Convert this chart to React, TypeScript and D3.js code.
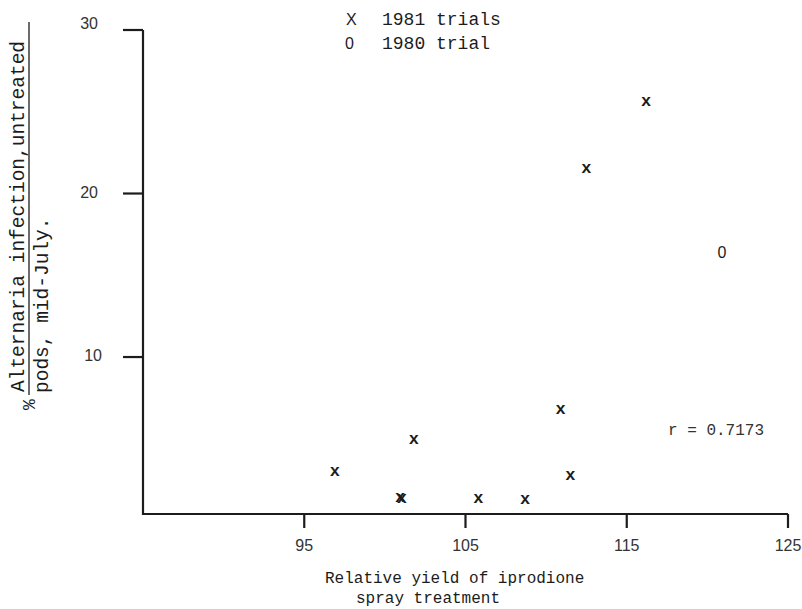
import React, { useEffect, useRef } from "react";
import * as d3 from "d3";

// 1981 trials (x markers)
const yield1981 = [96.9, 100.95, 101.05, 101.8, 105.8, 108.7, 110.9, 111.5, 112.5, 116.2];
const infection1981 = [3.1, 1.5, 1.45, 5.05, 1.45, 1.4, 6.9, 2.85, 21.6, 25.7];
// 1980 trial (0 marker)
const yield1980 = [120.9];
const infection1980 = [16.4];

const xTicks = [95, 105, 115, 125];
const yTicks = [10, 20, 30];

const ink = "#1c1c1c";
const mono = "'Liberation Mono', 'DejaVu Sans Mono', monospace";
const sans = "'Liberation Sans', 'DejaVu Sans', sans-serif";

const App = () => {
  const ref = useRef<SVGSVGElement>(null);

  useEffect(() => {
    const svg = d3.select(ref.current);
    svg.selectAll("*").remove();

    const width = 802;
    const height = 609;
    svg.attr("width", width).attr("height", height);

    svg.append("rect").attr("width", width).attr("height", height).attr("fill", "#ffffff");

    const x = d3.scaleLinear().domain([85, 125]).range([143, 788]);
    const y = d3.scaleLinear().domain([0.4, 30]).range([514, 30]);

    const axisY = y(0.4);

    // axes lines
    svg
      .append("path")
      .attr("d", `M${x(85)},${y(30)} L${x(85)},${axisY} L${x(125)},${axisY}`)
      .attr("fill", "none")
      .attr("stroke", ink)
      .attr("stroke-width", 2.2);

    // y ticks (to the left)
    const yg = svg.append("g");
    yg.selectAll("line")
      .data(yTicks)
      .enter()
      .append("line")
      .attr("x1", x(85) - 20)
      .attr("x2", x(85))
      .attr("y1", (d) => y(d))
      .attr("y2", (d) => y(d))
      .attr("stroke", ink)
      .attr("stroke-width", 2.2);
    yg.selectAll("text")
      .data(yTicks)
      .enter()
      .append("text")
      .attr("x", (d) => (d === 10 ? 102 : 98))
      .attr("y", (d) => (d === 30 ? y(d) - 1 : y(d) + 4))
      .attr("text-anchor", "end")
      .attr("font-family", sans)
      .attr("font-size", 16)
      .attr("fill", "#333")
      .text((d) => d);

    // x ticks (downward)
    const xg = svg.append("g");
    xg.selectAll("line")
      .data(xTicks)
      .enter()
      .append("line")
      .attr("x1", (d) => x(d))
      .attr("x2", (d) => x(d))
      .attr("y1", axisY)
      .attr("y2", axisY + 14)
      .attr("stroke", ink)
      .attr("stroke-width", 2.2);
    xg.selectAll("text")
      .data(xTicks)
      .enter()
      .append("text")
      .attr("x", (d) => x(d))
      .attr("y", axisY + 37)
      .attr("text-anchor", "middle")
      .attr("font-family", sans)
      .attr("font-size", 16)
      .attr("fill", "#333")
      .text((d) => d);

    // x label
    const xl = svg
      .append("text")
      .attr("font-family", mono)
      .attr("font-size", 16)
      .attr("fill", ink);
    xl.append("tspan").attr("x", 325).attr("y", 583).text("Relative yield of iprodione");
    xl.append("tspan").attr("x", 356).attr("y", 603).text("spray treatment");

    // y label: % fraction, rotated
    const yl = svg.append("g");
    yl.append("text")
      .attr("transform", `translate(35,410) rotate(-90)`)
      .attr("font-family", mono)
      .attr("font-size", 18)
      .attr("fill", ink)
      .text("%");
    yl.append("text")
      .attr("transform", `translate(24,392) rotate(-90)`)
      .attr("font-family", mono)
      .attr("font-size", 19.5)
      .attr("fill", ink)
      .text("Alternaria infection,untreated");
    yl.append("line")
      .attr("x1", 29)
      .attr("x2", 29)
      .attr("y1", 395)
      .attr("y2", 22)
      .attr("stroke", ink)
      .attr("stroke-width", 1.3);
    yl.append("text")
      .attr("transform", `translate(48,393) rotate(-90)`)
      .attr("font-family", mono)
      .attr("font-size", 19.5)
      .attr("fill", ink)
      .text("pods, mid-July.");

    // legend
    const lg = svg.append("g").attr("font-family", mono).attr("font-size", 18).attr("fill", ink);
    lg.append("text").attr("x", 346).attr("y", 25).attr("font-family", sans).attr("font-size", 16).text("X");
    lg.append("text").attr("x", 382).attr("y", 25).text("1981 trials");
    lg.append("text").attr("x", 345).attr("y", 49).attr("font-family", sans).attr("font-size", 16).text("0");
    lg.append("text").attr("x", 382).attr("y", 49).text("1980 trial");

    // 1981 points
    svg
      .append("g")
      .selectAll("text")
      .data(yield1981.map((v, i) => [v, infection1981[i]]))
      .enter()
      .append("text")
      .attr("x", (d) => x(d[0]))
      .attr("y", (d) => y(d[1]))
      .attr("dy", "0.35em")
      .attr("text-anchor", "middle")
      .attr("font-family", mono)
      .attr("font-weight", "bold")
      .attr("font-size", 17)
      .attr("fill", ink)
      .text("x");

    // 1980 point
    svg
      .append("g")
      .selectAll("text")
      .data(yield1980.map((v, i) => [v, infection1980[i]]))
      .enter()
      .append("text")
      .attr("x", (d) => x(d[0]))
      .attr("y", (d) => y(d[1]))
      .attr("dy", "0.35em")
      .attr("text-anchor", "middle")
      .attr("font-family", sans)
      .attr("font-size", 16)
      .attr("fill", ink)
      .text("0");

    // correlation
    svg
      .append("text")
      .attr("x", 668)
      .attr("y", 435)
      .attr("font-family", mono)
      .attr("font-size", 16)
      .attr("fill", "#333")
      .text("r = 0.7173");
  }, []);

  return (
    <div style={{ position: "absolute", left: 0, top: 0 }}>
      <svg ref={ref}></svg>
    </div>
  );
};

export default App;
